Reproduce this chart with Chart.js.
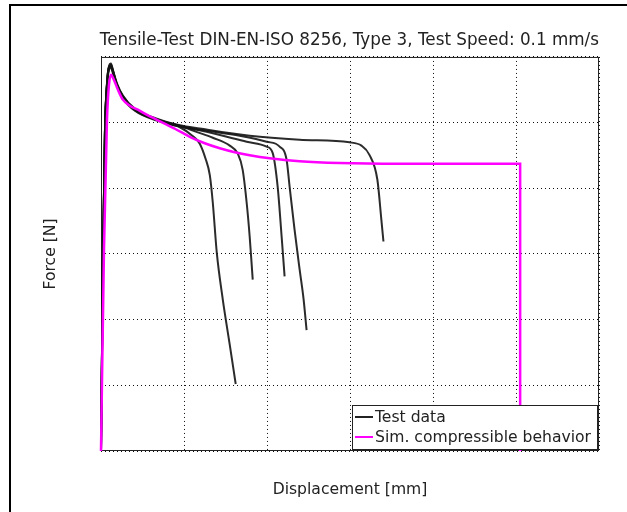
<!DOCTYPE html>
<html>
<head>
<meta charset="utf-8">
<script src="https://cdn.jsdelivr.net/npm/chart.js@4.4.0/dist/chart.umd.min.js"></script>
<style>
  html, body { margin: 0; padding: 0; background: #fff; overflow: hidden; }
  #wrap { position: relative; width: 627px; height: 512px; overflow: hidden; }
  #frame { position: absolute; left: 9px; top: 4px; width: 700px; height: 600px;
           border-left: 2px solid #000; border-top: 2px solid #000; pointer-events: none; }
</style>
</head>
<body>
<div id="wrap">
  <canvas id="tensile" width="627" height="512"></canvas>
  <div id="frame"></div>
</div>
<script>
const FONT = 'DejaVu Sans';

// grid steps on both axes (no tick labels are shown)
const xTicks = [0, 1, 2, 3, 4, 5, 6];
const yTicks = [0, 1, 2, 3, 4, 5, 6];

// simulation, compressible material
const simX = [0, 0.036, 0.072, 0.096, 0.12, 0.156, 0.204, 0.265, 0.469, 0.673, 0.89, 1.07, 1.25, 1.431, 1.611, 1.792, 2.032, 2.393, 2.874, 3.595, 5.026, 5.05, 5.05];
const simY = [0, 3.07, 5.04, 5.575, 5.73, 5.65, 5.50, 5.347, 5.18, 5.043, 4.907, 4.785, 4.686, 4.61, 4.55, 4.504, 4.458, 4.413, 4.386, 4.375, 4.375, 4.375, 0];

// test specimens
const test1X = [0, 0.024, 0.048, 0.072, 0.096, 0.12, 0.144, 0.192, 0.265, 0.409, 0.673, 0.95, 1.1, 1.19, 1.26, 1.311, 1.347, 1.395, 1.467, 1.551, 1.623];
const test1Y = [0, 2.9, 4.87, 5.55, 5.8, 5.84, 5.75, 5.56, 5.37, 5.18, 5.03, 4.93, 4.8, 4.68, 4.45, 4.2, 3.78, 3.02, 2.31, 1.62, 1.02];

const test2X = [0, 0.024, 0.048, 0.072, 0.096, 0.12, 0.144, 0.192, 0.265, 0.409, 0.673, 0.95, 1.15, 1.347, 1.551, 1.647, 1.707, 1.755, 1.791, 1.828];
const test2Y = [0, 2.95, 4.9, 5.58, 5.84, 5.87, 5.78, 5.58, 5.39, 5.2, 5.05, 4.95, 4.86, 4.77, 4.65, 4.53, 4.28, 3.78, 3.27, 2.61];

const test3X = [0, 0.024, 0.048, 0.072, 0.096, 0.12, 0.144, 0.192, 0.265, 0.409, 0.673, 0.95, 1.2, 1.755, 1.996, 2.068, 2.128, 2.176, 2.212];
const test3Y = [0, 2.92, 4.89, 5.57, 5.83, 5.86, 5.77, 5.57, 5.39, 5.19, 5.04, 4.94, 4.88, 4.71, 4.635, 4.54, 4.03, 3.27, 2.66];

const test4X = [0, 0.024, 0.048, 0.072, 0.096, 0.12, 0.144, 0.192, 0.265, 0.409, 0.673, 0.95, 1.2, 1.671, 1.996, 2.152, 2.236, 2.272, 2.332, 2.393, 2.441, 2.477];
const test4Y = [0, 2.93, 4.9, 5.59, 5.85, 5.88, 5.79, 5.58, 5.4, 5.2, 5.05, 4.95, 4.89, 4.8, 4.71, 4.635, 4.435, 4.03, 3.37, 2.765, 2.31, 1.84];

const test5X = [0, 0.024, 0.048, 0.072, 0.096, 0.12, 0.144, 0.192, 0.265, 0.409, 0.673, 0.95, 1.19, 1.792, 2.393, 2.994, 3.138, 3.234, 3.33, 3.378, 3.403];
const test5Y = [0, 2.94, 4.91, 5.6, 5.86, 5.9, 5.8, 5.6, 5.41, 5.21, 5.06, 4.96, 4.91, 4.8, 4.74, 4.7, 4.65, 4.51, 4.13, 3.52, 3.19];

const legendLabels = ['Test data', 'Sim. compressible behavior'];

function pts(xs, ys) {
    return xs.map((x, i) => ({ x: x, y: ys[i] }));
}

function testSet(xs, ys) {
    return {
        data: pts(xs, ys),
        borderColor: 'rgba(20, 20, 20, 0.9)',
        borderWidth: 2,
        pointRadius: 0,
        showLine: true,
        cubicInterpolationMode: 'monotone',
        clip: false,
        order: 2
    };
}

const frameAndLegend = {
    id: 'frameAndLegend',
    beforeDatasetsDraw(chart) {
        const { ctx, chartArea: a } = chart;
        ctx.save();
        ctx.strokeStyle = '#222';
        ctx.lineWidth = 1;
        ctx.strokeRect(a.left + 0.5, a.top + 0.5, a.right - a.left - 1, a.bottom - a.top - 1);
        ctx.restore();
    },
    afterDraw(chart) {
        const { ctx, chartArea: a } = chart;
        const w = 245, h = 44;
        const x = a.right - w - 2, y = a.bottom - h - 2;
        ctx.save();
        ctx.fillStyle = '#fff';
        ctx.fillRect(x, y, w, h);
        ctx.strokeStyle = '#222';
        ctx.lineWidth = 1;
        ctx.strokeRect(x + 0.5, y + 0.5, w, h);
        const colors = ['#222', '#ff00ff'];
        ctx.font = '15.6px "' + FONT + '"';
        ctx.textBaseline = 'middle';
        legendLabels.forEach((lab, i) => {
            const ly = y + 12 + i * 20;
            ctx.strokeStyle = colors[i];
            ctx.lineWidth = 2;
            ctx.beginPath();
            ctx.moveTo(x + 3, ly);
            ctx.lineTo(x + 21, ly);
            ctx.stroke();
            ctx.fillStyle = '#222';
            ctx.fillText(lab, x + 23, ly + 1);
        });
        ctx.restore();
    }
};

new Chart(document.getElementById('tensile'), {
    type: 'scatter',
    data: {
        datasets: [
            {
                data: pts(simX, simY),
                borderColor: '#ff00ff',
                borderWidth: 2.5,
                pointRadius: 0,
                showLine: true,
                cubicInterpolationMode: 'monotone',
                clip: false,
                order: 1
            },
            testSet(test1X, test1Y),
            testSet(test2X, test2Y),
            testSet(test3X, test3Y),
            testSet(test4X, test4Y),
            testSet(test5X, test5Y)
        ]
    },
    options: {
        responsive: false,
        animation: false,
        layout: { padding: { left: 0, right: 28, top: 0, bottom: 0 } },
        plugins: {
            legend: { display: false },
            tooltip: { enabled: false },
            title: {
                display: true,
                text: 'Tensile-Test DIN-EN-ISO 8256, Type 3, Test Speed: 0.1 mm/s',
                color: '#222',
                align: 'end',
                font: { family: FONT, size: 16.8, weight: 'normal' },
                padding: { top: 30.5, bottom: 6.3 }
            }
        },
        scales: {
            x: {
                type: 'linear',
                min: xTicks[0],
                max: xTicks[xTicks.length - 1],
                afterBuildTicks: (s) => { s.ticks = xTicks.map(v => ({ value: v })); },
                afterFit: (s) => { s.height = 61; },
                ticks: { display: false },
                grid: { color: '#111', lineWidth: 1, drawTicks: false },
                border: { display: false, dash: [1, 3] },
                title: {
                    display: true,
                    text: 'Displacement [mm]',
                    color: '#222',
                    font: { family: FONT, size: 15.6 },
                    padding: { top: 0, bottom: 12.6 }
                }
            },
            y: {
                type: 'linear',
                min: yTicks[0],
                max: yTicks[yTicks.length - 1],
                afterBuildTicks: (s) => { s.ticks = yTicks.map(v => ({ value: v })); },
                afterFit: (s) => { s.width = 101; },
                ticks: { display: false },
                grid: { color: '#111', lineWidth: 1, drawTicks: false },
                border: { display: false, dash: [1, 3] },
                title: {
                    display: true,
                    text: 'Force [N]',
                    color: '#222',
                    font: { family: FONT, size: 15.6 },
                    padding: { top: 41.6, bottom: 0 }
                }
            }
        }
    },
    plugins: [frameAndLegend]
});
</script>
</body>
</html>
